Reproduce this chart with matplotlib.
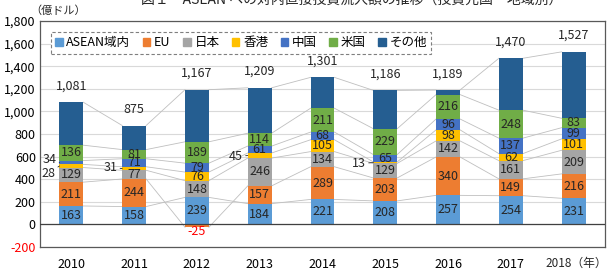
import numpy as np
import matplotlib
matplotlib.use("Agg")
import matplotlib.pyplot as plt
from matplotlib.patches import Patch

plt.rcParams['font.family'] = ['Noto Sans CJK JP', 'DejaVu Sans']

years = ['2010', '2011', '2012', '2013', '2014', '2015', '2016', '2017', '2018']
series_names = ['ASEAN域内', 'EU', '日本', '香港', '中国', '米国', 'その他']
asean = [163, 158, 239, 184, 221, 208, 257, 254, 231]
eu = [211, 244, -25, 157, 289, 203, 340, 149, 216]
japan = [129, 77, 148, 246, 134, 129, 142, 161, 209]
hongkong = [28, 31, 76, 45, 105, 13, 98, 62, 101]
china = [34, 71, 79, 61, 68, 65, 96, 137, 99]
usa = [136, 81, 189, 114, 211, 229, 216, 248, 83]
totals = [1081, 875, 1167, 1209, 1301, 1186, 1189, 1470, 1527]
# "その他" = total minus the listed partners
others = [t - (a + e + j + h + c + u) for t, a, e, j, h, c, u in
          zip(totals, asean, eu, japan, hongkong, china, usa)]

colors = ['#5B9BD5', '#ED7D31', '#A5A5A5', '#FFC000', '#4472C4', '#70AD47', '#255E91']
data = [asean, eu, japan, hongkong, china, usa, others]

fig = plt.figure(figsize=(6.09, 2.75), dpi=100)
ax = fig.add_axes([40/609, 1 - 247/275, 565/609, 226/275])

fs = 9
x = np.arange(len(years))
w = 0.38
pos_base = np.zeros(len(years))
neg_base = np.zeros(len(years))
tops = []
for k, vals in enumerate(data):
    vals = np.array(vals, dtype=float)
    bottom = np.where(vals >= 0, pos_base, neg_base)
    ax.bar(x, vals, w, bottom=bottom, color=colors[k], zorder=3)
    top = bottom + vals
    tops.append(top)
    if k < 6:
        for i, v in enumerate(vals):
            if v < 0:
                ax.text(i, top[i] - 38, f'{int(v)}', ha='center', va='center',
                        fontsize=fs, color='#FF0000', zorder=5)
            elif v >= 50:
                ax.text(i, bottom[i] + v / 2, f'{int(v)}', ha='center', va='center',
                        fontsize=fs, color='#262626', zorder=5)
    pos_base = np.where(vals >= 0, top, pos_base)
    neg_base = np.where(vals < 0, top, neg_base)

# series lines between bars
for k in range(len(data)):
    for i in range(len(years) - 1):
        ax.plot([i + w/2, i + 1 - w/2], [tops[k][i], tops[k][i + 1]],
                color='#BFBFBF', lw=0.6, zorder=2)

# small values outside with leader lines
small = [(0, 3, -0.37, 451), (0, 4, -0.35, 575), (1, 3, 0.62, 504),
         (3, 3, 2.62, 600), (5, 3, 4.58, 540)]
for i, k, tx, ty in small:
    v = data[k][i]
    ymid = tops[k][i] - v / 2
    ax.annotate(f'{v}', xy=(i - w/2, ymid), xytext=(tx, ty), fontsize=fs,
                color='#262626', ha='center', va='center', zorder=5,
                arrowprops=dict(arrowstyle='-', color='#262626', lw=0.6,
                                shrinkA=5, shrinkB=0))

# totals
for i, t in enumerate(totals):
    ax.text(i, pos_base[i] + 145, f'{t:,}', ha='center', va='center',
            fontsize=fs, color='#262626')

ax.set_xlim(-0.5, 8.5)
ax.set_ylim(-200, 1800)
ax.set_yticks(range(-200, 1801, 200))
ax.set_yticklabels([f'{v:,}' for v in range(-200, 1801, 200)], fontsize=fs)
ax.get_yticklabels()[0].set_color('#FF0000')
ax.set_xticks(x)
ax.set_xticklabels(years[:-1] + [''], fontsize=fs)
# last label carries the unit, squeezed against the right edge
fig.text(607/609, 1 - 263/275, years[-1] + '（年）', fontsize=8.5,
         ha='right', va='center', color='#262626')
ax.tick_params(length=0, pad=3)
ax.tick_params(axis='x', pad=8)
ax.grid(axis='y', color='#D9D9D9', lw=0.8, zorder=0)
ax.axhline(0, color='#404040', lw=0.9, zorder=4)
for s in ax.spines.values():
    s.set_color('#595959')
    s.set_linewidth(0.9)

handles = [Patch(color=c, label=n) for c, n in zip(colors, series_names)]
leg = ax.legend(handles=handles, ncol=7, loc='upper left', bbox_to_anchor=(0.008, 0.98),
                fontsize=fs, handlelength=0.6, handleheight=0.6, handletextpad=0.3,
                columnspacing=1.0, borderpad=0.35, fancybox=False, framealpha=1)
leg.get_frame().set_linestyle((0, (3, 2)))
leg.get_frame().set_edgecolor('#7F7F7F')
leg.get_frame().set_linewidth(0.8)

fig.text(30/609, 1 - 11/275, '（億ドル）', fontsize=8, va='center', ha='left', color='#262626')
fig.text(352/609, 1.0, '図１　ASEAN への対内直接投資流入額の推移（投資元国・地域別）',
         fontsize=10, ha='center', va='center', color='#262626')

fig.savefig('out.png', dpi=100)
